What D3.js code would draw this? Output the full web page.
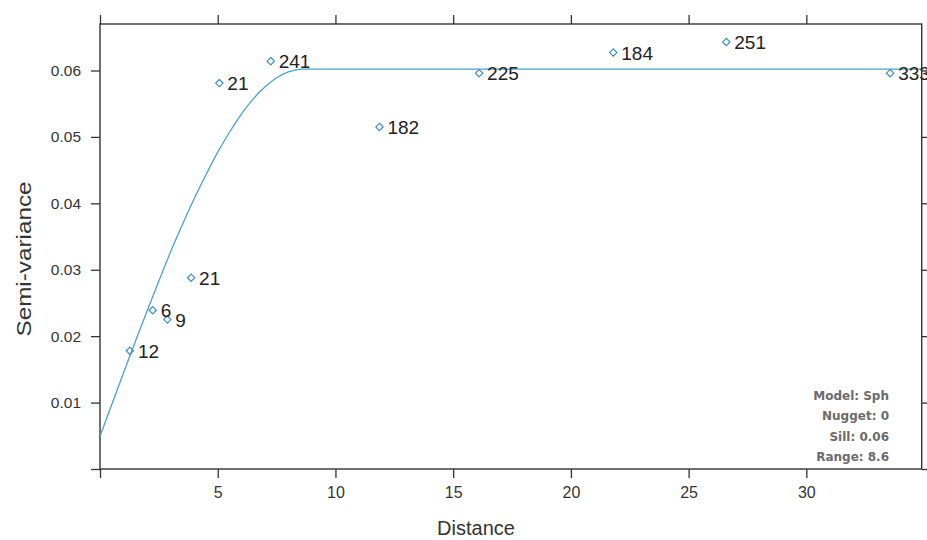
<!DOCTYPE html>
<html>
<head>
<meta charset="utf-8">
<script src="https://cdn.jsdelivr.net/npm/d3@7/dist/d3.min.js"></script>
<style>
  html, body { margin: 0; padding: 0; background: #fff; }
  svg { display: block; }
</style>
</head>
<body>
<svg id="chart" width="927" height="540"></svg>
<script>
// ---------- data ----------
const distances = [1.27, 2.24, 2.86, 3.87, 5.07, 7.25, 11.87, 16.1, 21.8, 26.6, 33.56];
const gammas    = [0.0178, 0.0239, 0.0225, 0.0288, 0.0581, 0.0614, 0.0515, 0.0596, 0.0627, 0.0643, 0.0596];
const pairCounts = [12, 6, 9, 21, 21, 241, 182, 225, 184, 251, 333];

// fitted model line
const modelDist  = [0, 0.5, 1, 1.5, 2, 2.5, 3, 3.5, 4, 4.5, 5, 5.5, 6, 6.5, 7, 7.5, 8, 8.6, 34.9];
const modelGamma = [0.0049, 0.0097, 0.0145, 0.0192, 0.0238, 0.0283, 0.0327, 0.0368, 0.0407, 0.0443,
                    0.0477, 0.0507, 0.0534, 0.0557, 0.0575, 0.0589, 0.0598, 0.0602, 0.0602];

const xTicks = [0, 5, 10, 15, 20, 25, 30];
const yTicks = [0, 0.01, 0.02, 0.03, 0.04, 0.05, 0.06];
const legendLines = ["Model: Sph", "Nugget: 0", "Sill: 0.06", "Range: 8.6"];
const xTitle = "Distance";
const yTitle = "Semi-variance";

// ---------- layout ----------
const W = 927, H = 540;
const m = { left: 100, top: 24, right: 5.3, bottom: 71 };
const svg = d3.select("#chart");

const x = d3.scaleLinear().domain([0, 34.9]).range([m.left, W - m.right]);
const y = d3.scaleLinear().domain([0, 0.067]).range([H - m.bottom, m.top]);

const axisColor = "#333";
const lineColor = "#4aa2c4";
const pointColor = "#3d8fb6";
const font = "'Liberation Sans', Arial, sans-serif";
const narrow = "'Liberation Sans Narrow', 'Liberation Sans', Arial, sans-serif";

svg.append("defs").append("clipPath").attr("id", "plotclip")
  .append("rect")
  .attr("x", m.left).attr("y", m.top)
  .attr("width", W - m.right - m.left).attr("height", H - m.bottom - m.top);

// ---------- axes ----------
function styleAxis(g) {
  g.select(".domain").remove();
  g.selectAll(".tick line").attr("stroke", axisColor).attr("stroke-width", 1.3);
}

const xBottom = d3.axisBottom(x).tickValues(xTicks).tickSize(9).tickPadding(9)
  .tickFormat(d => d === 0 ? "" : d3.format("d")(d));
svg.append("g").attr("transform", `translate(0,${H - m.bottom})`).call(xBottom).call(styleAxis)
  .selectAll("text").attr("font-family", narrow).attr("font-size", 16).attr("fill", "#333");

const xTop = d3.axisTop(x).tickValues(xTicks).tickSize(9).tickFormat("");
svg.append("g").attr("transform", `translate(0,${m.top})`).call(xTop).call(styleAxis);

const yLeft = d3.axisLeft(y).tickValues(yTicks).tickSize(9).tickPadding(10)
  .tickFormat(d => d === 0 ? "" : d3.format(".2f")(d));
svg.append("g").attr("transform", `translate(${m.left},0)`).call(yLeft).call(styleAxis)
  .selectAll("text").attr("font-family", font).attr("font-size", 15.5).attr("fill", "#333");

const yRight = d3.axisRight(y).tickValues(yTicks).tickSize(9).tickFormat("");
svg.append("g").attr("transform", `translate(${W - m.right},0)`).call(yRight).call(styleAxis);

// frame
svg.append("rect")
  .attr("x", m.left).attr("y", m.top)
  .attr("width", W - m.right - m.left).attr("height", H - m.bottom - m.top)
  .attr("fill", "none").attr("stroke", axisColor).attr("stroke-width", 1.4);

// axis titles
svg.append("text")
  .attr("x", 476).attr("y", 535)
  .attr("text-anchor", "middle")
  .attr("font-family", narrow).attr("font-size", 20).attr("fill", "#333")
  .text(xTitle);

svg.append("text")
  .attr("transform", `translate(31,259) rotate(-90)`)
  .attr("text-anchor", "middle")
  .attr("font-family", font).attr("font-size", 21).attr("fill", "#333")
  .attr("textLength", 155).attr("lengthAdjust", "spacingAndGlyphs")
  .text(yTitle);

// ---------- model line ----------
const modelData = modelDist.map((d, i) => [d, modelGamma[i]]);
svg.append("path")
  .datum(modelData)
  .attr("clip-path", "url(#plotclip)")
  .attr("d", d3.line().x(d => x(d[0])).y(d => y(d[1])).curve(d3.curveMonotoneX))
  .attr("fill", "none").attr("stroke", lineColor).attr("stroke-width", 1.3);

// ---------- points ----------
const pts = distances.map((d, i) => ({ d, g: gammas[i], n: pairCounts[i] }));
const diamond = d3.symbol().type(d3.symbolDiamond2 || d3.symbolDiamond).size(34);

svg.append("g").selectAll("path")
  .data(pts).join("path")
  .attr("transform", p => `translate(${x(p.d)},${y(p.g)})`)
  .attr("d", diamond)
  .attr("fill", "none").attr("stroke", pointColor).attr("stroke-width", 1.2);

svg.append("g").selectAll("text")
  .data(pts).join("text")
  .attr("x", p => x(p.d) + 8)
  .attr("y", p => y(p.g) + 7)
  .attr("font-family", font).attr("font-size", 19).attr("fill", "#222")
  .text(p => p.n);

// ---------- legend ----------
svg.append("g").selectAll("text")
  .data(legendLines).join("text")
  .attr("x", 889)
  .attr("y", (d, i) => 400 + i * 20.3)
  .attr("text-anchor", "end")
  .attr("font-family", "'DejaVu Sans', sans-serif").attr("font-weight", "bold")
  .attr("font-size", 12).attr("fill", "#6b6b6b")
  .text(d => d);
</script>
</body>
</html>
